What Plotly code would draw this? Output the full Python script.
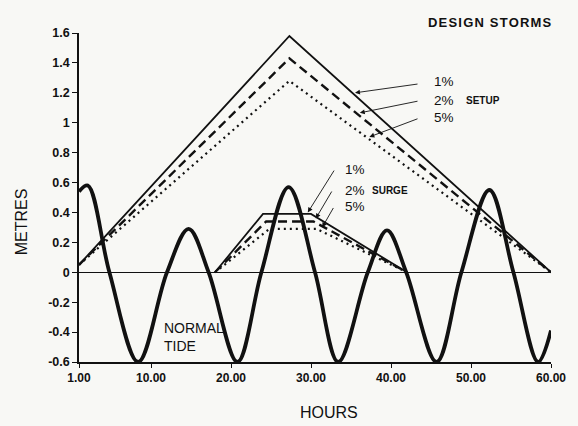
import plotly.graph_objects as go

# Normal tide: turning points and zero crossings (hours, metres)
tide_hours = [1.0, 2.1, 4.8, 8.4, 12.0, 14.7, 17.2, 20.8, 23.8, 27.2, 30.5,
              33.4, 37.1, 39.5, 41.9, 45.7, 48.8, 52.3, 55.3, 58.4, 60.0]
tide_level = [0.54, 0.58, 0.0, -0.60, 0.0, 0.29, 0.0, -0.60, 0.0, 0.57, 0.0,
              -0.60, 0.0, 0.28, 0.0, -0.60, 0.0, 0.55, 0.0, -0.60, -0.39]

# Wave setup hydrographs for the design storms
setup_hours = [1.0, 27.3, 60.0]
setup_1pct = [0.05, 1.58, 0.0]
setup_2pct = [0.05, 1.43, 0.0]
setup_5pct = [0.05, 1.28, 0.0]

# Storm surge hydrographs for the design storms
surge_hours_1pct = [18.0, 24.0, 30.0, 42.0]
surge_hours_2pct = [18.0, 24.4, 30.3, 42.0]
surge_hours_5pct = [18.0, 24.8, 30.7, 42.0]
surge_1pct = [0.0, 0.39, 0.39, 0.0]
surge_2pct = [0.0, 0.34, 0.34, 0.0]
surge_5pct = [0.0, 0.29, 0.29, 0.0]

# Axis ticks
x_ticks = [1, 10, 20, 30, 40, 50, 60]
x_tick_labels = ["1.00", "10.00", "20.00", "30.00", "40.00", "50.00", "60.00"]
y_ticks = [-0.6, -0.4, -0.2, 0, 0.2, 0.4, 0.6, 0.8, 1.0, 1.2, 1.4, 1.6]
y_tick_labels = ["-0.6", "-0.4", "-0.2", "0", "0.2", "0.4", "0.6", "0.8",
                 "1", "1.2", "1.4", "1.6"]

INK = "#111111"
FONT = "Liberation Sans, Arial, Helvetica, sans-serif"

fig = go.Figure()

def add_line(x, y, width, dash="solid", shape="linear"):
    fig.add_trace(go.Scatter(
        x=x, y=y, mode="lines",
        line=dict(color=INK, width=width, dash=dash, shape=shape, smoothing=1.0),
        hoverinfo="skip", showlegend=False, cliponaxis=False,
    ))

add_line(setup_hours, setup_1pct, 1.8)
add_line(setup_hours, setup_2pct, 2.4, dash="9px,5px")
add_line(setup_hours, setup_5pct, 2.2, dash="2px,4px")

add_line(surge_hours_1pct, surge_1pct, 1.8)
add_line(surge_hours_2pct, surge_2pct, 2.4, dash="9px,5px")
add_line(surge_hours_5pct, surge_5pct, 2.2, dash="2px,4px")

add_line(tide_hours, tide_level, 3.8, shape="spline")

annotations = []

def label(x, y, text, size=13.5, weight=500, xanchor="left", **kw):
    annotations.append(dict(
        x=x, y=y, xref="x", yref="y", text=text, showarrow=False,
        xanchor=xanchor, yanchor="middle",
        font=dict(family=FONT, size=size, color=INK, weight=weight),
        **kw,
    ))

def leader(tail, head):
    annotations.append(dict(
        x=head[0], y=head[1], ax=tail[0], ay=tail[1],
        xref="x", yref="y", axref="x", ayref="y",
        text="", showarrow=True, arrowhead=2, arrowsize=1.1,
        arrowwidth=0.9, arrowcolor=INK, standoff=0, startstandoff=0,
    ))

# Setup labels and leaders
label(45.1, 1.273, "1%")
label(45.1, 1.152, "2%")
label(45.1, 1.032, "5%")
label(49.1, 1.152, "SETUP", size=10, weight="bold")
leader((43.5, 1.26), (35.5, 1.20))
leader((43.5, 1.146), (36.1, 1.066))
leader((43.5, 1.03), (37.3, 0.905))

# Surge labels and leaders
label(34.0, 0.684, "1%")
label(34.0, 0.55, "2%")
label(34.0, 0.437, "5%")
label(37.4, 0.55, "SURGE", size=10, weight="bold")
leader((33.0, 0.69), (29.6, 0.40))
leader((32.7, 0.55), (30.6, 0.36))
leader((32.9, 0.44), (31.4, 0.30))

# Tide label
annotations.append(dict(
    x=11.4, y=-0.433, xref="x", yref="y", text="NORMAL<br>TIDE",
    showarrow=False, xanchor="left", yanchor="middle", align="left",
    font=dict(family=FONT, size=14, color=INK, weight=500),
))

# Title and axis titles
annotations.append(dict(
    x=0.871, y=1.033, xref="paper", yref="paper",
    text='<span style="letter-spacing:1.2px">DESIGN STORMS</span>',
    showarrow=False, xanchor="center", yanchor="middle",
    font=dict(family=FONT, size=13, color=INK, weight="bold"),
))
annotations.append(dict(
    x=-0.122, y=0.426, xref="paper", yref="paper", text="METRES",
    textangle=-90, showarrow=False, xanchor="center", yanchor="middle",
    font=dict(family=FONT, size=16, color=INK, weight=500),
))
annotations.append(dict(
    x=0.529, y=-0.155, xref="paper", yref="paper", text="HOURS",
    showarrow=False, xanchor="center", yanchor="middle",
    font=dict(family=FONT, size=16, color=INK, weight=500),
))

fig.update_layout(
    width=578, height=426,
    margin=dict(l=79, r=23, t=33, b=64),
    paper_bgcolor="#f8f8f5", plot_bgcolor="#f8f8f5",
    annotations=annotations,
    showlegend=False,
)
fig.update_xaxes(
    range=[1, 60], tickmode="array", tickvals=x_ticks, ticktext=x_tick_labels,
    showgrid=False, zeroline=False, showline=True, linecolor=INK, linewidth=1.5,
    ticks="outside", ticklen=4, tickwidth=1.2, tickcolor=INK,
    tickfont=dict(family=FONT, size=12, color=INK, weight="bold"),
)
fig.update_yaxes(
    range=[-0.6, 1.6], tickmode="array", tickvals=y_ticks, ticktext=y_tick_labels,
    showgrid=False, zeroline=True, zerolinecolor=INK, zerolinewidth=1,
    showline=True, linecolor=INK, linewidth=1.5,
    ticks="outside", ticklen=5, tickwidth=1.2, tickcolor=INK,
    tickfont=dict(family=FONT, size=12.5, color=INK, weight="bold"),
)

fig.write_html("out.html")
